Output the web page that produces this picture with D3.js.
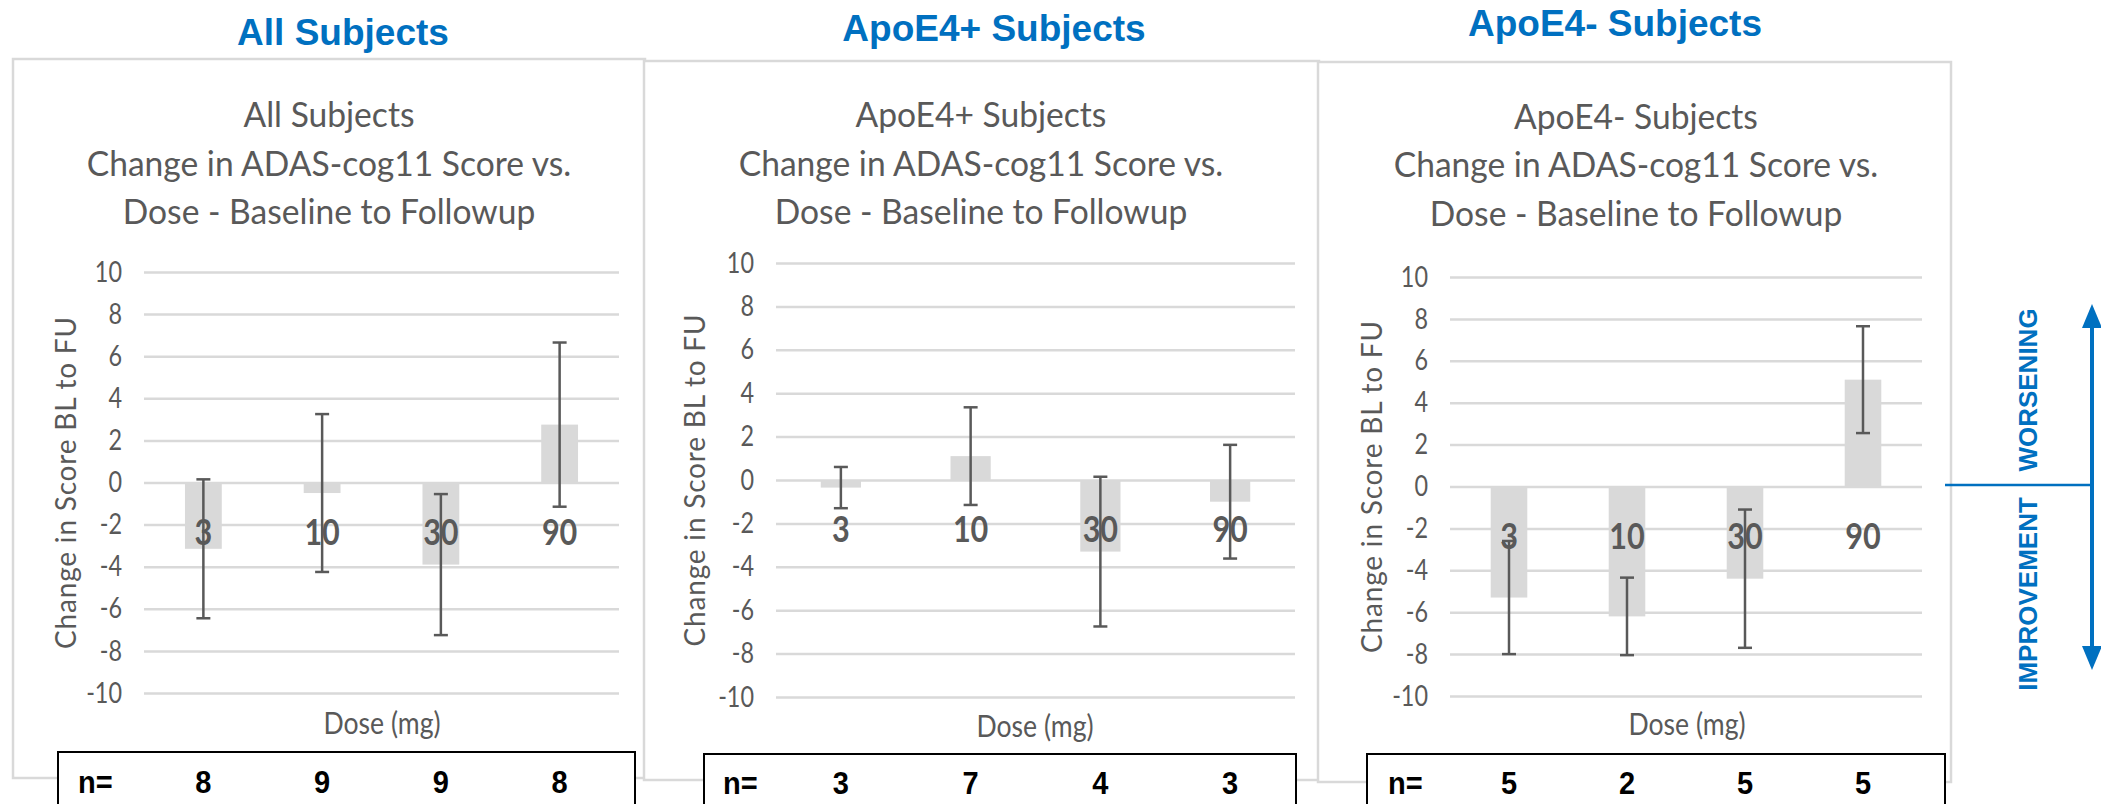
<!DOCTYPE html>
<html lang="en">
<head>
<meta charset="UTF-8">
<title>ADAS-cog11 change vs dose</title>
<script src="https://d3js.org/d3.v7.min.js"></script>
<style>
  body { margin: 0; background: #fff; }
  svg { display: block; }
  .chart-text { font-family: Lato, 'Open Sans', sans-serif; fill: #595959; }
  .bold-text { font-family: 'Liberation Sans', Arial, sans-serif; font-weight: bold; }
</style>
</head>
<body>
<script>
// ---- data ----
var doses = ["3", "10", "30", "90"];
var yTicks = [10, 8, 6, 4, 2, 0, -2, -4, -6, -8, -10];
var groupNames = ["All Subjects", "ApoE4+ Subjects", "ApoE4- Subjects"];

var meanAll = [-3.15, -0.5, -3.9, 2.75];
var errAll  = [3.3, 3.75, 3.35, 3.9];
var nAll    = [8, 9, 9, 8];

var meanPos = [-0.35, 1.1, -3.3, -1.0];
var errPos  = [0.95, 2.25, 3.45, 2.62];
var nPos    = [3, 7, 4, 3];

var meanNeg = [-5.3, -6.2, -4.4, 5.1];
var errNeg  = [2.7, 1.85, 3.3, 2.55];
var nNeg    = [5, 2, 5, 5];

var titleLines = ["Change in ADAS-cog11 Score vs.", "Dose - Baseline to Followup"];

var width = 2101, height = 804;
var blue = "#0070C0", grey = "#595959", light = "#d9d9d9";

var svg = d3.select("body").append("svg")
    .attr("width", width)
    .attr("height", height);

// where each panel sits on the slide
var panels = [
  { name: groupNames[0], mean: meanAll, err: errAll, n: nAll,
    head: [343, 32], box: [13, 59, 645, 778], titleX: 329, titleY: [113, 162, 210],
    plotX: [144, 619], plotY: [272, 693], yTitleX: 65, doseX: 382, doseY: 722,
    nBox: [58, 752, 635], nLabelX: 78, nY: 782 },
  { name: groupNames[1], mean: meanPos, err: errPos, n: nPos,
    head: [994, 28], box: [644, 61, 1319, 780], titleX: 981, titleY: [113, 162, 210],
    plotX: [776, 1295], plotY: [263, 697], yTitleX: 694, doseX: 1035, doseY: 725,
    nBox: [704, 754, 1296], nLabelX: 723, nY: 783 },
  { name: groupNames[2], mean: meanNeg, err: errNeg, n: nNeg,
    head: [1615, 23], box: [1318, 62, 1951, 782], titleX: 1636, titleY: [115, 163, 212],
    plotX: [1450, 1922], plotY: [277, 696], yTitleX: 1371, doseX: 1687, doseY: 723,
    nBox: [1367, 754, 1945], nLabelX: 1388, nY: 783 }
];

function squeezed(g, x, y, sx, sy, txt) {
  return g.append("text")
      .attr("transform", "translate(" + x + "," + y + ") scale(" + sx + "," + sy + ")")
      .text(txt);
}

panels.forEach(function(p) {
  var g = svg.append("g");

  // header above the chart
  g.append("text")
      .attr("class", "bold-text")
      .attr("x", p.head[0]).attr("y", p.head[1])
      .attr("text-anchor", "middle")
      .attr("dominant-baseline", "central")
      .attr("font-size", 37)
      .attr("fill", blue)
      .text(p.name);

  // chart frame
  g.append("rect")
      .attr("x", p.box[0]).attr("y", p.box[1])
      .attr("width", p.box[2] - p.box[0]).attr("height", p.box[3] - p.box[1])
      .attr("fill", "#fff")
      .attr("stroke", light)
      .attr("stroke-width", 2.5);

  // chart title, three lines
  var tl = [p.name].concat(titleLines);
  tl.forEach(function(line, i) {
    squeezed(g, p.titleX, p.titleY[i], 1.05, 1.1, line)
        .attr("class", "chart-text")
        .attr("text-anchor", "middle")
        .attr("dominant-baseline", "central")
        .attr("font-size", 32);
  });

  var x = d3.scaleBand()
      .domain(doses)
      .range(p.plotX)
      .paddingInner(0.69)
      .paddingOuter(0.345);
  var y = d3.scaleLinear()
      .domain([10, -10])
      .range(p.plotY);

  // gridlines + tick labels via d3 axis
  var yAxis = d3.axisLeft(y)
      .tickValues(yTicks)
      .tickSize(-(p.plotX[1] - p.plotX[0]))
      .tickPadding(22)
      .tickFormat(function(d) { return String(d); });
  var ax = g.append("g")
      .attr("transform", "translate(" + p.plotX[0] + ",0)")
      .call(yAxis);
  ax.select(".domain").remove();
  ax.selectAll(".tick line")
      .attr("stroke", light)
      .attr("stroke-width", 2.5);
  ax.selectAll(".tick text")
      .attr("class", "chart-text")
      .attr("font-size", 26)
      .attr("fill", grey)
      .attr("transform", function() {
        var tx = +d3.select(this).attr("x");
        return "translate(" + tx + ",0) scale(0.9,1.1) translate(" + (-tx) + ",0)";
      });

  // y axis title
  g.append("text")
      .attr("class", "chart-text")
      .attr("transform", "translate(" + p.yTitleX + "," + y(0) + ") rotate(-90) scale(1.0,1.0)")
      .attr("text-anchor", "middle")
      .attr("dominant-baseline", "central")
      .attr("font-size", 28)
      .attr("letter-spacing", 0.8)
      .text("Change in Score BL to FU");

  // bars
  var rows = doses.map(function(d, i) { return { dose: d, mean: p.mean[i], err: p.err[i], n: p.n[i] }; });
  g.selectAll(".bar")
      .data(rows)
      .enter().append("rect")
      .attr("class", "bar")
      .attr("x", function(d) { return x(d.dose); })
      .attr("width", x.bandwidth())
      .attr("y", function(d) { return y(Math.max(0, d.mean)); })
      .attr("height", function(d) { return Math.abs(y(d.mean) - y(0)); })
      .attr("fill", light);

  // dose labels sitting just under the zero line
  rows.forEach(function(d) {
    squeezed(g, x(d.dose) + x.bandwidth() / 2, y(0) + 48, 0.9, 1.08, d.dose)
        .attr("class", "chart-text")
        .attr("text-anchor", "middle")
        .attr("dominant-baseline", "central")
        .attr("font-size", 34)
        .attr("font-weight", "bold");
  });

  // error bars
  var cap = 7;
  var eb = g.selectAll(".err")
      .data(rows)
      .enter().append("g")
      .attr("class", "err")
      .attr("stroke", grey)
      .attr("stroke-width", 2.5);
  eb.append("line")
      .attr("x1", function(d) { return x(d.dose) + x.bandwidth() / 2; })
      .attr("x2", function(d) { return x(d.dose) + x.bandwidth() / 2; })
      .attr("y1", function(d) { return y(d.mean + d.err); })
      .attr("y2", function(d) { return y(d.mean - d.err); });
  [1, -1].forEach(function(s) {
    eb.append("line")
        .attr("x1", function(d) { return x(d.dose) + x.bandwidth() / 2 - cap; })
        .attr("x2", function(d) { return x(d.dose) + x.bandwidth() / 2 + cap; })
        .attr("y1", function(d) { return y(d.mean + s * d.err); })
        .attr("y2", function(d) { return y(d.mean + s * d.err); });
  });

  // x axis title
  squeezed(g, p.doseX, p.doseY, 0.95, 1.1, "Dose (mg)")
      .attr("class", "chart-text")
      .attr("text-anchor", "middle")
      .attr("dominant-baseline", "central")
      .attr("font-size", 28);

  // n= table under each chart
  g.append("rect")
      .attr("x", p.nBox[0]).attr("y", p.nBox[1])
      .attr("width", p.nBox[2] - p.nBox[0]).attr("height", 70)
      .attr("fill", "#fff")
      .attr("stroke", "#000")
      .attr("stroke-width", 2);
  squeezed(g, p.nLabelX, p.nY, 1.0, 1.05, "n=")
      .attr("class", "bold-text")
      .attr("dominant-baseline", "central")
      .attr("font-size", 29)
      .attr("fill", "#000");
  rows.forEach(function(d) {
    squeezed(g, x(d.dose) + x.bandwidth() / 2, p.nY, 1.0, 1.05, d.n)
        .attr("class", "bold-text")
        .attr("text-anchor", "middle")
        .attr("dominant-baseline", "central")
        .attr("font-size", 29)
        .attr("fill", "#000");
  });
});

// worsening / improvement annotation on the right
var ann = svg.append("g");
var zeroY = 485, arrowX = 2092, arrowTop = 304, arrowBot = 670, head = 24, headW = 10;
ann.append("line")
    .attr("x1", 1945).attr("x2", arrowX)
    .attr("y1", zeroY).attr("y2", zeroY)
    .attr("stroke", blue).attr("stroke-width", 2.5);
ann.append("line")
    .attr("x1", arrowX).attr("x2", arrowX)
    .attr("y1", arrowTop + head - 2).attr("y2", arrowBot - head + 2)
    .attr("stroke", blue).attr("stroke-width", 4);
ann.append("path")
    .attr("d", "M" + arrowX + "," + arrowTop + "L" + (arrowX + headW) + "," + (arrowTop + head) +
               "L" + (arrowX - headW) + "," + (arrowTop + head) + "Z")
    .attr("fill", blue);
ann.append("path")
    .attr("d", "M" + arrowX + "," + arrowBot + "L" + (arrowX + headW) + "," + (arrowBot - head) +
               "L" + (arrowX - headW) + "," + (arrowBot - head) + "Z")
    .attr("fill", blue);
[["WORSENING", 390], ["IMPROVEMENT", 594]].forEach(function(t) {
  ann.append("text")
      .attr("class", "bold-text")
      .attr("transform", "translate(2028," + t[1] + ") rotate(-90)")
      .attr("text-anchor", "middle")
      .attr("dominant-baseline", "central")
      .attr("font-size", 26)
      .attr("fill", blue)
      .text(t[0]);
});
</script>
</body>
</html>
